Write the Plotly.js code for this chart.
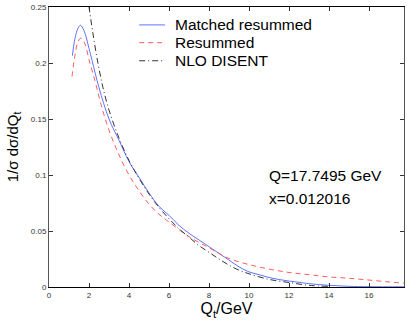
<!DOCTYPE html>
<html>
<head>
<meta charset="utf-8">
<script src="https://cdn.plot.ly/plotly-3.0.1.min.js"></script>
<style>
  body { margin: 0; background: #fff; }
  #display { width: 407px; height: 325px; }
</style>
</head>
<body>
<div id="display"></div>
<script>
// values (Qt in GeV, 1/sigma dsigma/dQt)
let matchedX = [1.17,1.3,1.45,1.57,1.75,2.0,2.15,2.5,3.0,3.5,4.0,4.5,5.0,5.5,6.0,6.5,7.0,7.5,8.0,8.5,9.0,9.5,10.0,10.5,11.0,11.5,12.0,12.5,13.0,14.0,15.0,16.0,17.75];
let matchedY = [0.2066,0.222,0.231,0.2337,0.229,0.213,0.2024,0.178,0.150,0.131,0.112,0.098,0.084,0.072,0.064,0.055,0.048,0.042,0.036,0.030,0.024,0.018,0.0135,0.011,0.0085,0.0067,0.0053,0.0042,0.003,0.0015,0.0006,0.0003,0.0002];

let resumX = [1.15,1.3,1.45,1.6,1.8,2.0,2.3,2.6,3.0,3.5,4.0,4.5,5.0,5.5,6.0,7.0,8.0,9.0,10.0,11.0,12.0,13.0,14.0,15.0,16.0,17.0,17.75];
let resumY = [0.188,0.207,0.219,0.2223,0.217,0.203,0.184,0.163,0.140,0.118,0.100,0.086,0.074,0.065,0.058,0.045,0.035,0.0255,0.020,0.016,0.013,0.011,0.009,0.0078,0.0062,0.0045,0.0035];

let nloX = [1.9,2.0,2.2,2.45,2.7,3.0,3.5,4.0,4.5,5.0,5.5,6.0,6.5,7.0,7.5,8.0,8.5,9.0,9.5,10.0,11.0,12.0,13.0,14.0];
let nloY = [0.262,0.25,0.226,0.1995,0.178,0.158,0.133,0.113,0.097,0.083,0.071,0.061,0.052,0.0445,0.037,0.031,0.025,0.0195,0.015,0.0118,0.0068,0.004,0.0015,0.0005];

let names = ['Matched resummed','Resummed','NLO DISENT'];
let colors = ['#5f74ff','#ff5a5a','#333333'];
let dashes = ['solid','5px,4px','6px,3px,1px,3px'];
let xTicks = [0,2,4,6,8,10,12,14,16];
let yTicks = [0,0.05,0.1,0.15,0.2,0.25];
let yTickText = ['0','0.05','0.1','0.15','0.2','0.25'];
let infoLines = ['Q=17.7495 GeV','x=0.012016'];

let xs = [matchedX, resumX, nloX];
let ys = [matchedY, resumY, nloY];
let traces = [];
for(var i=0;i<3;i++){
  traces.push({x:xs[i], y:ys[i], name:names[i], mode:'lines', showlegend:false,
    line:{color:colors[i], width:1, dash:dashes[i], shape:'spline'}});
}

// hand-made legend (plotly's own legend rows are too far apart)
let shapes = [];
let annotations = [];
let rowY = [0.936, 0.8725, 0.808];
for(var i=0;i<3;i++){
  shapes.push({type:'line', xref:'paper', yref:'paper', x0:0.254, x1:0.327, y0:rowY[i], y1:rowY[i],
    line:{color:colors[i], width:1, dash:dashes[i]}});
  annotations.push({xref:'paper', yref:'paper', x:0.349, y:rowY[i], xanchor:'left', yanchor:'middle',
    showarrow:false, text:names[i], font:{size:15.5}});
}
annotations.push({xref:'paper', yref:'paper', x:0.615, y:0.4, xanchor:'left', yanchor:'middle',
  showarrow:false, text:infoLines[0], font:{size:15.5}});
annotations.push({xref:'paper', yref:'paper', x:0.615, y:0.317, xanchor:'left', yanchor:'middle',
  showarrow:false, text:infoLines[1], font:{size:15.5}});

let axisStyle = {
  showgrid:false, zeroline:false, showline:true, linewidth:1,
  mirror:'ticks', ticks:'inside', ticklen:4, tickcolor:'#333',
  tickfont:{family:'Liberation Sans, Arial, sans-serif', size:8, color:'#333'}
};

let layout = {
  width:407, height:325,
  margin:{l:49, r:3, t:7, b:38},
  paper_bgcolor:'#fff', plot_bgcolor:'#fff',
  font:{family:'Liberation Sans, Arial, sans-serif', color:'#000'},
  showlegend:false,
  xaxis:Object.assign({}, axisStyle, {
    range:[0,17.7495], tickvals:xTicks, linecolor:'#000',
    title:{text:'Q<sub>t</sub>/GeV', font:{size:16}, standoff:4}
  }),
  yaxis:Object.assign({}, axisStyle, {
    range:[0,0.25], tickvals:yTicks, ticktext:yTickText, linecolor:'#555',
    title:{text:'1/σ dσ/dQ<sub>t</sub>', font:{size:15}, standoff:8}
  }),
  shapes:shapes,
  annotations:annotations
};

Plotly.newPlot('display', traces, layout, {displayModeBar:false, staticPlot:true});
</script>
</body>
</html>
